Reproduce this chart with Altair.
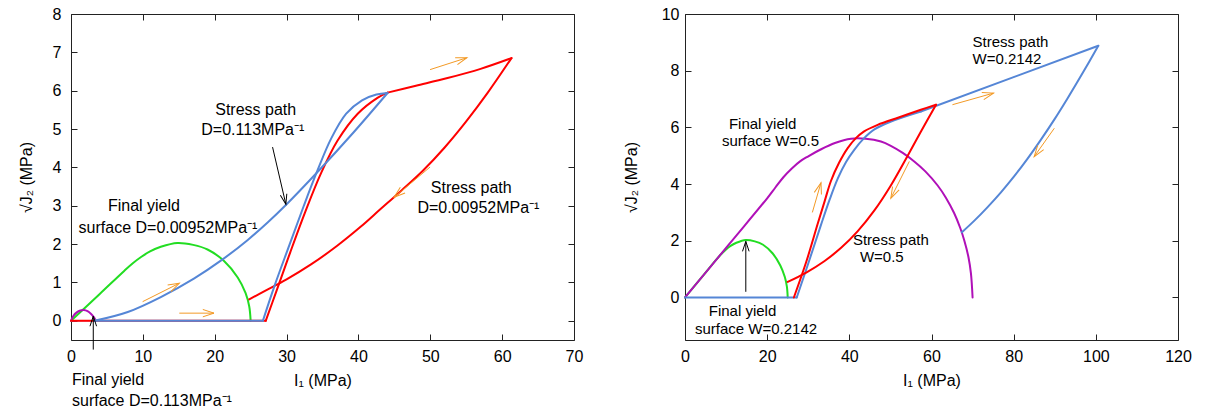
import math
import altair as alt
import pandas as pd

FONT = "Liberation Sans"
RED = "#ff0000"
BLUE = "#5586d6"
GREEN = "#22dd22"
PURPLE = "#b010b8"
ORANGE = "#f39a26"
BLACK = "#000000"

# ---------------- left panel (D) ----------------
L_X_TICKS = [0, 10, 20, 30, 40, 50, 60, 70]
L_Y_TICKS = [0, 1, 2, 3, 4, 5, 6, 7, 8]
L_X_DOMAIN = [0, 70]
L_Y_DOMAIN = [-0.5, 8]

# final yield surface D=0.00952 (green)
L_green_x = [0, 4, 7.4, 8.6, 9.8, 11, 12.5, 14.8, 17, 19, 21.3, 23.2, 24.3, 24.8, 25]
L_green_y = [0, 0.7, 1.3, 1.5, 1.67, 1.81, 1.93, 2.03, 1.98, 1.86, 1.56, 1.13, 0.72, 0.38, 0]
# final yield surface D=0.113 (purple)
L_purple_x = [0, 0.3, 0.8, 1.3, 1.8, 2.3, 2.8, 3.2, 3.45]
L_purple_y = [0, 0.12, 0.22, 0.27, 0.28, 0.25, 0.18, 0.09, 0]
L_purple_base_x = [3.45, 0]
L_purple_base_y = [0, 0]
# stress path D=0.00952 (red)
L_red_base_x = [0, 27.1]
L_red_base_y = [0, 0]
L_red_load_x = [27.1, 28.6, 30.5, 32.6, 34.8, 37.1, 39.9, 42.7, 44.05]
L_red_load_y = [0, 0.78, 1.78, 2.84, 3.85, 4.7, 5.4, 5.82, 5.95]
L_red_top_x = [44.05, 48, 52.4, 57, 61.3]
L_red_top_y = [5.95, 6.13, 6.33, 6.57, 6.85]
L_red_unload_x = [61.3, 58, 55, 52, 49, 46, 43, 40.3, 37, 33.4, 30, 27, 24.8]
L_red_unload_y = [6.85, 5.95, 5.2, 4.52, 3.92, 3.4, 2.9, 2.45, 1.95, 1.47, 1.08, 0.78, 0.56]
# stress path D=0.113 (blue)
L_blue_base_x = [3.25, 26.7]
L_blue_base_y = [0, 0]
L_blue_load_x = [26.7, 28.3, 30.4, 32.4, 34.3, 36.2, 38.3, 40.5, 42.5, 44.05]
L_blue_load_y = [0, 0.9, 1.98, 3.0, 3.92, 4.75, 5.4, 5.75, 5.9, 5.94]
L_blue_unload_x = [44.05, 39.4, 34.5, 29.9, 27.4, 24.6, 20.9, 17.1, 12.5, 7.9, 3.25]
L_blue_unload_y = [5.94, 4.93, 3.92, 3.02, 2.57, 2.11, 1.575, 1.10, 0.62, 0.23, 0]

L_orange_x0 = [9.97, 15.07, 49.97, 49.97]
L_orange_y0 = [0.5, 0.2, 6.55, 4.01]
L_orange_x1 = [15.07, 19.9, 55.1, 44.97]
L_orange_y1 = [0.98, 0.2, 6.86, 3.22]

L_black_x0 = [28.05, 3.1]
L_black_y0 = [4.53, -0.75]
L_black_x1 = [29.9, 3.1]
L_black_y1 = [3.04, 0.12]

L_text = ["Stress path", "D=0.113MPa\u207b\u00b9", "Final yield", "surface D=0.00952MPa\u207b\u00b9",
          "Stress path", "D=0.00952MPa\u207b\u00b9", "Final yield", "surface D=0.113MPa\u207b\u00b9"]
L_text_x = [25.7, 25.3, 10.15, 13.5, 55.7, 56.7, 0.14, 0.14]
L_text_y = [5.37, 4.84, 2.87, 2.29, 3.34, 2.82, -1.68, -2.21]
L_text_align = ["center", "center", "center", "center", "center", "center", "left", "left"]

# ---------------- right panel (W) ----------------
R_X_TICKS = [0, 20, 40, 60, 80, 100, 120]
R_Y_TICKS = [0, 2, 4, 6, 8, 10]
R_X_DOMAIN = [0, 120]
R_Y_DOMAIN = [-1.5, 10]

# final yield surface W=0.2142 (green)
R_green_x = [0, 4, 7.4, 8.6, 9.8, 11, 12.5, 14.8, 17, 19, 21.3, 23.2, 24.3, 24.8, 25]
R_green_y = [0, 0.7, 1.3, 1.5, 1.67, 1.81, 1.93, 2.03, 1.98, 1.86, 1.56, 1.13, 0.72, 0.38, 0]
# final yield surface W=0.5 (purple)
R_purple_x = [0, 10.8, 20, 22, 24, 26, 28, 30, 33, 36.5, 40.4, 44, 47.7, 50.1, 53, 55.8,
              58.5, 61.5, 63.5, 65.5, 67, 68, 69, 69.6, 70]
R_purple_y = [0, 1.89, 3.5, 3.88, 4.25, 4.55, 4.8, 4.98, 5.22, 5.45, 5.6, 5.6, 5.5, 5.35, 5.1, 4.8,
              4.45, 3.95, 3.52, 2.98, 2.45, 2.0, 1.42, 0.85, 0]
# stress path W=0.2142 (blue)
R_blue_base_x = [0, 27.2]
R_blue_base_y = [0, 0]
R_blue_load_x = [27.2, 30, 33.1, 35.2, 37.2, 39.2, 41.2, 43.6, 46.1, 50, 57.4]
R_blue_load_y = [0, 1.2, 2.56, 3.45, 4.2, 4.78, 5.21, 5.62, 5.93, 6.2, 6.56]
R_blue_top_x = [57.4, 100.6]
R_blue_top_y = [6.56, 8.88]
R_blue_unload_x = [100.6, 97, 93.1, 90, 86.6, 83.3, 80.1, 76.9, 73.6, 70.5, 67.4]
R_blue_unload_y = [8.88, 7.97, 7.02, 6.30, 5.56, 4.88, 4.27, 3.71, 3.18, 2.72, 2.3]
# stress path W=0.5 (red)
R_red_load_x = [26.5, 29.5, 32.3, 34, 35.5, 37.5, 39.6, 41.6, 43.6, 46.9, 52, 57.4, 61.1]
R_red_load_y = [0, 1.25, 2.6, 3.4, 4.1, 4.75, 5.27, 5.62, 5.86, 6.09, 6.35, 6.62, 6.8]
R_red_unload_x = [61.1, 57.4, 54.2, 50.1, 46.1, 42, 38, 33.9, 29.5, 25]
R_red_unload_y = [6.8, 5.85, 5.0, 3.95, 3.07, 2.33, 1.75, 1.28, 0.88, 0.55]

R_orange_x0 = [31.0, 54.6, 65.1, 89.9]
R_orange_y0 = [3.0, 4.8, 6.8, 5.97]
R_orange_x1 = [33.1, 50.1, 75.1, 85.0]
R_orange_y1 = [4.05, 3.5, 7.21, 4.97]

R_black_x0 = [14.8]
R_black_y0 = [0.2]
R_black_x1 = [14.8]
R_black_y1 = [1.98]

R_text = ["Final yield", "surface W=0.5", "Stress path", "W=0.5", "Stress path", "W=0.2142",
          "Final yield", "surface W=0.2142"]
R_text_x = [18.9, 20.8, 50.1, 47.9, 70.0, 70.0, 14.0, 17.3]
R_text_y = [5.93, 5.33, 1.86, 1.25, 8.85, 8.23, -0.67, -1.28]
R_text_align = ["center", "center", "center", "center", "left", "left", "center", "center"]

LW, LH = 503, 326
RW, RH = 493, 326
HEAD = "M -0.33 1 L 0 0 L 0.33 1"
FS = 16


def build_panel(xdom, ydom, xticks, yticks, w, h, curves, orange, black, texts,
                ylab_pad, ytitle_pad, text_fs):
    xs = alt.Scale(domain=xdom, nice=False, zero=False)
    ys = alt.Scale(domain=ydom, nice=False, zero=False)
    sx = w / (xdom[1] - xdom[0])
    sy = h / (ydom[1] - ydom[0])
    layers = []
    common = dict(domain=False, grid=False, tickSize=6, offset=-6, tickColor="#222",
                  labelFontSize=FS, labelColor="#000", labelFont=FONT, labelFlush=False,
                  titleFontSize=FS, titleFontWeight="normal", titleFont=FONT, titleColor="#000")
    base = pd.DataFrame({"x": [xdom[0]], "y": [ydom[0]]})
    layers.append(alt.Chart(base).mark_point(opacity=0).encode(
        x=alt.X("x:Q", scale=xs, axis=alt.Axis(orient="bottom", values=xticks, title="I\u2081 (MPa)",
                                               labelPadding=8, titlePadding=8, **common)),
        y=alt.Y("y:Q", scale=ys, axis=alt.Axis(orient="left", values=yticks, title="\u221aJ\u2082 (MPa)",
                                               labelPadding=ylab_pad, titlePadding=ytitle_pad, **common))))
    layers.append(alt.Chart(base).mark_point(opacity=0).encode(
        x=alt.X("x:Q", scale=xs, axis=alt.Axis(orient="top", values=xticks, title=None, labels=False,
                                               **common)),
        y=alt.Y("y:Q", scale=ys, axis=alt.Axis(orient="right", values=yticks, title=None, labels=False,
                                               **common))))
    for cx, cy, color, sw, smooth in curves:
        df = pd.DataFrame({"x": cx, "y": cy, "i": list(range(len(cx)))})
        mk = dict(color=color, strokeWidth=sw, strokeJoin="round", strokeCap="round")
        if smooth:
            mk["interpolate"] = "catmull-rom"
        layers.append(alt.Chart(df).mark_line(**mk).encode(
            x=alt.X("x:Q", scale=xs, axis=None),
            y=alt.Y("y:Q", scale=ys, axis=None),
            order="i:Q"))
    for (x0, y0, x1, y1), color, size in [(orange, ORANGE, 500), (black, BLACK, 400)]:
        ang = [math.degrees(math.atan2((b - a) * sx, (d - c) * sy)) % 360
               for a, b, c, d in zip(x0, x1, y0, y1)]
        df = pd.DataFrame({"x0": x0, "y0": y0, "x1": x1, "y1": y1, "ang": ang})
        layers.append(alt.Chart(df).mark_rule(color=color, strokeWidth=1).encode(
            x=alt.X("x0:Q", scale=xs, axis=None), y=alt.Y("y0:Q", scale=ys, axis=None),
            x2="x1:Q", y2="y1:Q"))
        layers.append(alt.Chart(df).mark_point(shape=HEAD, filled=False, size=size, color=color,
                                               strokeWidth=1, opacity=1).encode(
            x=alt.X("x1:Q", scale=xs, axis=None), y=alt.Y("y1:Q", scale=ys, axis=None),
            angle=alt.Angle("ang:Q", scale=None)))
    tt, tx, ty, ta = texts
    df = pd.DataFrame({"t": tt, "x": tx, "y": ty, "a": ta})
    for al in ["center", "left"]:
        sub = df[df["a"] == al]
        if len(sub):
            layers.append(alt.Chart(sub).mark_text(align=al, baseline="alphabetic", fontSize=text_fs,
                                                   font=FONT, color="#000").encode(
                x=alt.X("x:Q", scale=xs, axis=None), y=alt.Y("y:Q", scale=ys, axis=None),
                text="t:N"))
    return alt.layer(*layers).properties(width=w, height=h)


left = build_panel(
    L_X_DOMAIN, L_Y_DOMAIN, L_X_TICKS, L_Y_TICKS, LW, LH,
    [(L_green_x, L_green_y, GREEN, 2, True),
     (L_purple_x, L_purple_y, PURPLE, 2, True),
     (L_purple_base_x, L_purple_base_y, "#c070c8", 1.5, False),
     (L_red_base_x, L_red_base_y, RED, 2, False),
     (L_red_load_x, L_red_load_y, RED, 2, True),
     (L_red_top_x, L_red_top_y, RED, 2, True),
     (L_red_unload_x, L_red_unload_y, RED, 2, True),
     (L_blue_base_x, L_blue_base_y, BLUE, 2, False),
     (L_blue_load_x, L_blue_load_y, BLUE, 2, True),
     (L_blue_unload_x, L_blue_unload_y, BLUE, 2, True)],
    (L_orange_x0, L_orange_y0, L_orange_x1, L_orange_y1),
    (L_black_x0, L_black_y0, L_black_x1, L_black_y1),
    (L_text, L_text_x, L_text_y, L_text_align), 10, 18, 16)

right = build_panel(
    R_X_DOMAIN, R_Y_DOMAIN, R_X_TICKS, R_Y_TICKS, RW, RH,
    [(R_green_x, R_green_y, GREEN, 2, True),
     (R_purple_x, R_purple_y, PURPLE, 2, True),
     (R_blue_base_x, R_blue_base_y, BLUE, 2, False),
     (R_blue_load_x, R_blue_load_y, BLUE, 2, True),
     (R_blue_top_x, R_blue_top_y, BLUE, 2, False),
     (R_blue_unload_x, R_blue_unload_y, BLUE, 2, True),
     (R_red_load_x, R_red_load_y, RED, 2, True),
     (R_red_unload_x, R_red_unload_y, RED, 2, True)],
    (R_orange_x0, R_orange_y0, R_orange_x1, R_orange_y1),
    (R_black_x0, R_black_y0, R_black_x1, R_black_y1),
    (R_text, R_text_x, R_text_y, R_text_align), 6, 22, 15)

chart = alt.hconcat(left, right, spacing=111, bounds="flush").properties(
    padding={"left": 17, "top": 5, "right": 5, "bottom": 2},
    background="white",
).configure(font=FONT).configure_view(stroke="#222", strokeWidth=1)

chart.save("out.html", embed_options={"renderer": "svg", "actions": False})
